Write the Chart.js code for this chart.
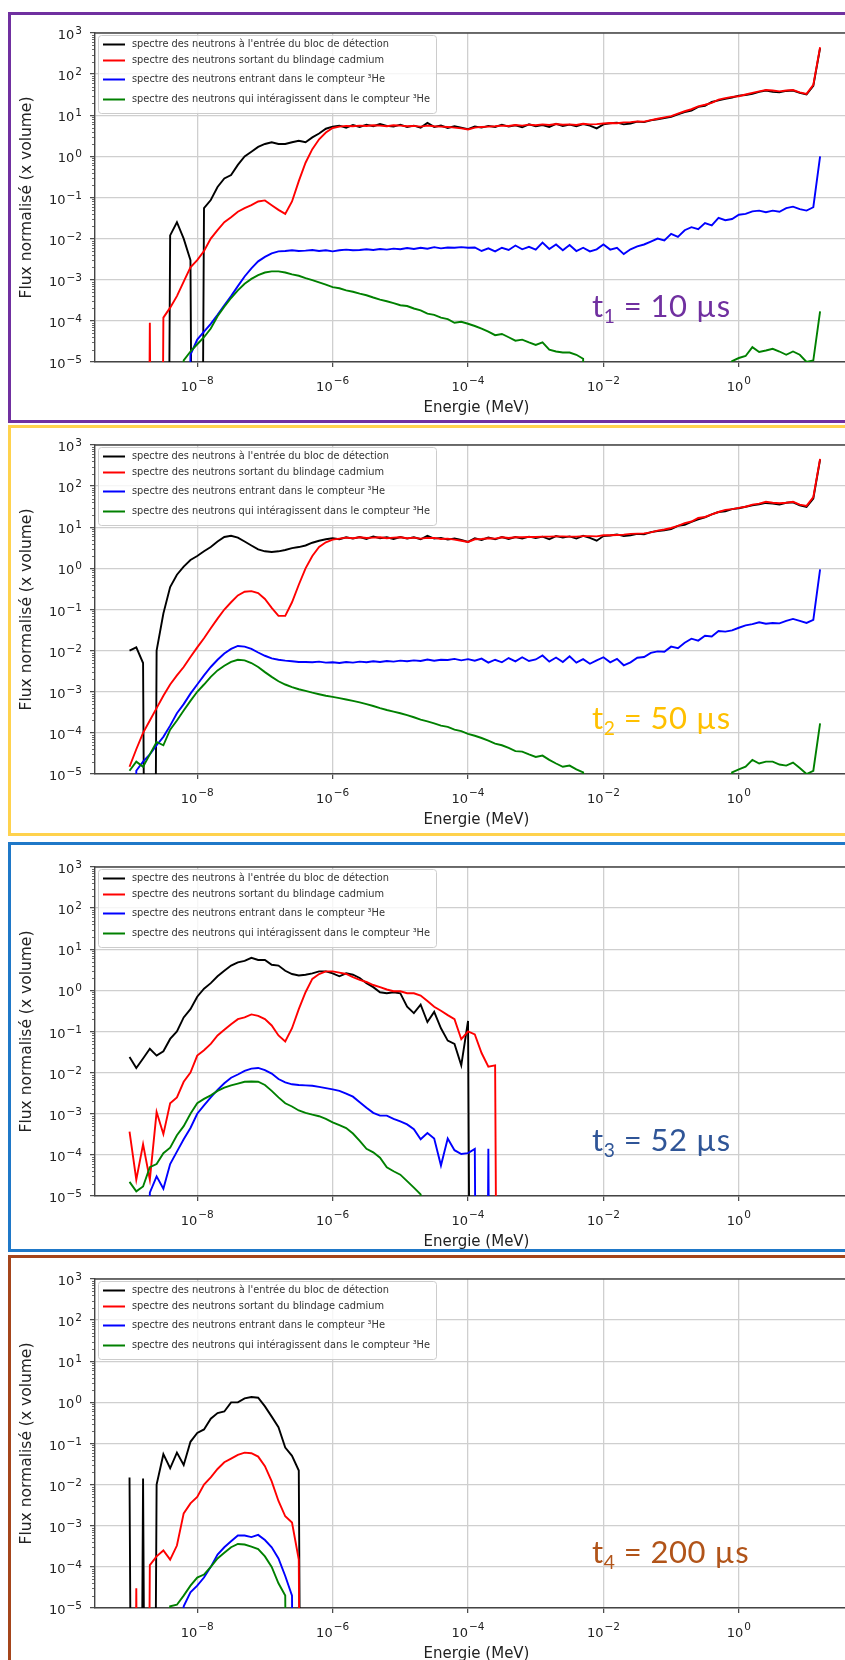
<!DOCTYPE html>
<html lang="fr">
<head>
<meta charset="utf-8">
<title>Spectres des neutrons</title>
<script src="https://cdn.jsdelivr.net/npm/chart.js@4.4.1/dist/chart.umd.min.js"></script>
<style>
  html, body { margin: 0; padding: 0; background: #fff; }
  body { width: 845px; height: 1660px; overflow: hidden; position: relative; }
  .cadre { position: absolute; left: 8px; width: 900px; border: 3px solid; box-sizing: border-box; }
  canvas { position: absolute; left: 0; }
  .temps { position: absolute; left: 592px; font-family: Lato, "Open Sans", sans-serif; font-size: 31px; letter-spacing: 0.5px; line-height: 1; white-space: nowrap; }
  .temps sub { font-size: 62%; vertical-align: -0.3em; line-height: 0; }
</style>
</head>
<body>
<div class="cadre" style="top:12px;height:411px;border-color:#7030a0"></div>
<div class="cadre" style="top:425px;height:411px;border-color:#ffd24d"></div>
<div class="cadre" style="top:842px;height:410px;border-color:#1f78c8"></div>
<div class="cadre" style="top:1255px;height:430px;border-color:#a5451b"></div>

<canvas id="c1" width="880" height="409" style="top:13px"></canvas>
<canvas id="c2" width="880" height="409" style="top:425px"></canvas>
<canvas id="c3" width="880" height="409" style="top:847px"></canvas>
<canvas id="c4" width="880" height="409" style="top:1259px"></canvas>

<div class="temps" style="top:290px;color:#7030a0">t<sub>1</sub> = 10 µs</div>
<div class="temps" style="top:702px;color:#ffc000">t<sub>2</sub> = 50 µs</div>
<div class="temps" style="top:1124px;color:#2f5597">t<sub>3</sub> = 52 µs</div>
<div class="temps" style="top:1536px;color:#b15419">t<sub>4</sub> = 200 µs</div>

<script>
// energies (log10 MeV), centre des bins
var logE = [-9.0, -8.9, -8.8, -8.7, -8.6, -8.5, -8.4, -8.3, -8.2, -8.1,
            -8.0, -7.9, -7.8, -7.7, -7.6, -7.5, -7.4, -7.3, -7.2, -7.1,
            -7.0, -6.9, -6.8, -6.7, -6.6, -6.5, -6.4, -6.3, -6.2, -6.1,
            -6.0, -5.9, -5.8, -5.7, -5.6, -5.5, -5.4, -5.3, -5.2, -5.1,
            -5.0, -4.9, -4.8, -4.7, -4.6, -4.5, -4.4, -4.3, -4.2, -4.1,
            -4.0, -3.9, -3.8, -3.7, -3.6, -3.5, -3.4, -3.3, -3.2, -3.1,
            -3.0, -2.9, -2.8, -2.7, -2.6, -2.5, -2.4, -2.3, -2.2, -2.1,
            -2.0, -1.9, -1.8, -1.7, -1.6, -1.5, -1.4, -1.3, -1.2, -1.1,
            -1.0, -0.9, -0.8, -0.7, -0.6, -0.5, -0.4, -0.3, -0.2, -0.1,
             0.0,  0.1,  0.2,  0.3,  0.4,  0.5,  0.6,  0.7,  0.8,  0.9,
             1.0,  1.1,  1.2];

var seriesLabels = ["spectre des neutrons à l'entrée du bloc de détection",
                    "spectre des neutrons sortant du blindage cadmium",
                    "spectre des neutrons entrant dans le compteur ³He",
                    "spectre des neutrons qui intéragissent dans le compteur ³He"];
var seriesColors = ['#000000', '#ff0000', '#0000ff', '#008000'];

var xTickValues = [1e-8, 1e-6, 1e-4, 1e-2, 1];
var xTickLabels = ['10⁻⁸', '10⁻⁶', '10⁻⁴', '10⁻²', '10⁰'];
var yTickValues = [1e-5, 1e-4, 1e-3, 1e-2, 1e-1, 1, 1e1, 1e2, 1e3];
var yTickLabels = ['10⁻⁵', '10⁻⁴', '10⁻³', '10⁻²', '10⁻¹', '10⁰', '10¹', '10²', '10³'];

// ---- t1 = 10 us ----
var p1Entree = [0, 0, 0, 0, 0, 0, 0.012, 0.025, 0.01, 0.003,
  0, 0.055, 0.087, 0.18, 0.29, 0.35, 0.62, 1.0, 1.3, 1.7,
  2.0, 2.2, 2.0, 2.0, 2.2, 2.4, 2.2, 2.9, 3.6, 4.7,
  5.3, 5.6, 5.0, 5.8, 5.2, 5.9, 5.4, 6.1, 5.5, 5.3,
  5.9, 5.2, 5.6, 5.0, 6.5, 5.2, 5.6, 4.9, 5.4, 5.0,
  4.6, 5.3, 5.0, 5.5, 5.2, 5.9, 5.3, 5.7, 5.1, 6.0,
  5.4, 5.8, 5.2, 6.2, 5.5, 5.9, 5.4, 6.1, 5.6, 4.8,
  6.0, 6.4, 6.6, 6.0, 6.3, 7.0, 6.8, 7.5, 8.0, 8.5,
  9.2, 10.5, 12, 13, 16, 17, 21, 23, 25, 27,
  30, 31, 33, 37, 40, 37, 36, 39, 40, 35,
  32, 52, 430];
var p1Cadmium = [0, 0, 0, 9e-5, 0, 1.2e-4, 2.1e-4, 4e-4, 9e-4, 2e-3,
  3e-3, 5e-3, 1e-2, 1.6e-2, 2.5e-2, 3.3e-2, 4.5e-2, 5.5e-2, 6.5e-2, 8e-2,
  8.5e-2, 6.5e-2, 5e-2, 4e-2, 8e-2, 0.25, 0.7, 1.5, 2.6, 3.8,
  4.9, 5.3, 5.5, 5.4, 5.6, 5.5, 5.7, 5.6, 5.4, 5.7,
  5.6, 5.4, 5.5, 5.3, 5.6, 5.4, 5.3, 5.2, 5.0, 4.8,
  4.5, 5.0, 5.2, 5.3, 5.4, 5.6, 5.5, 5.8, 5.6, 5.9,
  5.7, 6.0, 5.8, 6.1, 5.9, 6.0, 5.8, 6.2, 6.0, 6.1,
  6.3, 6.5, 6.4, 6.7, 6.8, 7.1, 7.0, 7.6, 8.2, 8.9,
  9.5, 11, 12.5, 14, 16.5, 18, 20, 24, 26, 28,
  29, 32, 35, 38, 41, 40, 38, 40, 41, 36,
  33, 55, 450];
var p1Entrant = [0, 0, 0, 0, 0, 0, 0, 0, 0, 1.5e-5,
  3.5e-5, 5.5e-5, 8.5e-5, 1.4e-4, 2.4e-4, 4e-4, 7e-4, 1.2e-3, 1.9e-3, 2.8e-3,
  3.6e-3, 4.4e-3, 4.9e-3, 5.0e-3, 5.2e-3, 5.0e-3, 5.1e-3, 5.3e-3, 5.0e-3, 5.2e-3,
  4.9e-3, 5.2e-3, 5.4e-3, 5.2e-3, 5.3e-3, 5.5e-3, 5.3e-3, 5.6e-3, 5.4e-3, 5.7e-3,
  5.5e-3, 5.9e-3, 5.6e-3, 6.0e-3, 5.7e-3, 6.2e-3, 5.8e-3, 6.1e-3, 6.0e-3, 6.2e-3,
  6.0e-3, 6.1e-3, 5.0e-3, 5.8e-3, 4.9e-3, 6.0e-3, 5.3e-3, 6.8e-3, 5.5e-3, 6.3e-3,
  5.4e-3, 8.0e-3, 5.6e-3, 7.2e-3, 5.2e-3, 7.0e-3, 5.0e-3, 6.0e-3, 4.9e-3, 5.5e-3,
  7.2e-3, 5.4e-3, 6.0e-3, 4.2e-3, 5.5e-3, 6.5e-3, 7.2e-3, 8.5e-3, 1.0e-2, 9.0e-3,
  1.3e-2, 1.1e-2, 1.6e-2, 1.9e-2, 1.7e-2, 2.4e-2, 2.1e-2, 3.2e-2, 2.8e-2, 3.0e-2,
  3.8e-2, 4.0e-2, 4.6e-2, 4.8e-2, 4.4e-2, 4.8e-2, 4.5e-2, 5.5e-2, 6.0e-2, 5.2e-2,
  4.8e-2, 5.8e-2, 1.0];
var p1Interagit = [0, 0, 0, 0, 0, 0, 0, 0, 1.1e-5, 1.8e-5,
  2.7e-5, 4e-5, 6.5e-5, 1.3e-4, 2.2e-4, 3.6e-4, 5.5e-4, 8e-4, 1.05e-3, 1.3e-3,
  1.5e-3, 1.6e-3, 1.6e-3, 1.5e-3, 1.35e-3, 1.25e-3, 1.1e-3, 9.8e-4, 8.6e-4, 7.6e-4,
  6.6e-4, 6.2e-4, 5.5e-4, 5.1e-4, 4.6e-4, 4.2e-4, 3.7e-4, 3.3e-4, 3.0e-4, 2.7e-4,
  2.4e-4, 2.3e-4, 2.0e-4, 1.8e-4, 1.5e-4, 1.4e-4, 1.2e-4, 1.1e-4, 9e-5, 9.5e-5,
  8.5e-5, 7.5e-5, 6.5e-5, 5.5e-5, 4.5e-5, 4.8e-5, 4e-5, 3.3e-5, 3.5e-5, 3e-5,
  2.6e-5, 3e-5, 2e-5, 1.8e-5, 1.7e-5, 1.7e-5, 1.5e-5, 1.2e-5, 0, 0,
  0, 0, 0, 0, 0, 0, 0, 0, 0, 0,
  0, 0, 0, 0, 0, 0, 0, 0, 0, 1.05e-5,
  1.25e-5, 1.4e-5, 2.3e-5, 1.75e-5, 1.9e-5, 2.1e-5, 1.8e-5, 1.5e-5, 1.8e-5, 1.5e-5,
  1.0e-5, 1.1e-5, 1.7e-4];

// ---- t2 = 50 us ----
var p2Entree = [0.01, 0.012, 0.005, 0, 0.01, 0.08, 0.35, 0.7, 1.1, 1.6,
  2.0, 2.6, 3.3, 4.5, 5.8, 6.2, 5.6, 4.5, 3.6, 2.9,
  2.6, 2.5, 2.6, 2.8, 3.1, 3.3, 3.6, 4.2, 4.7, 5.1,
  5.4, 5.1, 5.7, 5.3, 5.8, 5.2, 6.0, 5.4, 5.7, 5.2,
  5.8, 5.3, 5.7, 5.1, 6.2, 5.3, 5.5, 5.0, 5.3, 4.9,
  4.4, 5.4, 4.9, 5.6, 5.1, 5.8, 5.2, 5.8, 5.3, 5.9,
  5.5, 5.9, 5.1, 6.1, 5.6, 6.0, 5.3, 6.2, 5.5, 4.7,
  6.1, 6.3, 6.7, 6.1, 6.4, 6.9, 6.7, 7.6, 8.1, 8.4,
  9.0, 10.8, 11.5, 13.5, 15.5, 17.5, 20.5, 23.5, 24.5, 27.5,
  29, 31.5, 34, 36, 39, 37.5, 35.5, 39.5, 40.5, 34,
  31, 50, 440];
var p2Cadmium = [1.5e-5, 4e-5, 1e-4, 2e-4, 4e-4, 8e-4, 1.5e-3, 2.5e-3, 4e-3, 7e-3,
  1.2e-2, 2e-2, 3.5e-2, 6e-2, 0.1, 0.15, 0.22, 0.27, 0.28, 0.25,
  0.18, 0.11, 0.07, 0.07, 0.15, 0.4, 1.0, 2.0, 3.3, 4.3,
  5.0, 5.3, 5.6, 5.4, 5.7, 5.5, 5.6, 5.7, 5.4, 5.6,
  5.7, 5.4, 5.6, 5.3, 5.5, 5.5, 5.2, 5.3, 5.0, 4.7,
  4.4, 5.1, 5.2, 5.4, 5.3, 5.7, 5.5, 5.7, 5.7, 5.8,
  5.8, 5.9, 5.9, 6.0, 6.0, 5.9, 5.9, 6.1, 6.1, 6.0,
  6.4, 6.4, 6.5, 6.6, 6.9, 7.0, 7.1, 7.5, 8.3, 8.8,
  9.6, 10.8, 12.6, 13.8, 16.8, 17.8, 20.5, 23.5, 26.5, 27.5,
  29.5, 31.5, 35.5, 37.5, 41.5, 39.5, 38.5, 39.5, 41.5, 35.5,
  33, 54, 460];
var p2Entrant = [0, 1.2e-5, 2e-5, 3e-5, 5e-5, 8e-5, 1.5e-4, 3e-4, 5e-4, 9e-4,
  1.5e-3, 2.5e-3, 4e-3, 6e-3, 8.5e-3, 1.1e-2, 1.3e-2, 1.25e-2, 1.1e-2, 9e-3,
  7.5e-3, 6.5e-3, 6e-3, 5.7e-3, 5.5e-3, 5.3e-3, 5.3e-3, 5.2e-3, 5.4e-3, 5.1e-3,
  5.2e-3, 5.0e-3, 5.3e-3, 5.1e-3, 5.4e-3, 5.2e-3, 5.5e-3, 5.3e-3, 5.6e-3, 5.4e-3,
  5.7e-3, 5.5e-3, 5.8e-3, 5.6e-3, 6.1e-3, 5.7e-3, 6.0e-3, 5.9e-3, 6.3e-3, 5.8e-3,
  6.2e-3, 5.7e-3, 6.4e-3, 5.1e-3, 6.0e-3, 5.2e-3, 6.6e-3, 5.5e-3, 6.9e-3, 5.6e-3,
  6.1e-3, 7.6e-3, 5.4e-3, 6.8e-3, 5.3e-3, 7.3e-3, 5.1e-3, 6.2e-3, 4.8e-3, 5.8e-3,
  6.9e-3, 5.2e-3, 6.3e-3, 4.4e-3, 5.2e-3, 6.7e-3, 7.0e-3, 8.8e-3, 9.6e-3, 9.4e-3,
  1.25e-2, 1.15e-2, 1.55e-2, 1.95e-2, 1.75e-2, 2.3e-2, 2.2e-2, 3.0e-2, 2.9e-2, 3.1e-2,
  3.6e-2, 4.1e-2, 4.4e-2, 4.9e-2, 4.5e-2, 4.7e-2, 4.6e-2, 5.3e-2, 5.9e-2, 5.3e-2,
  4.7e-2, 5.6e-2, 0.95];
var p2Interagit = [1.2e-5, 2e-5, 1.5e-5, 3e-5, 6e-5, 5e-5, 1.2e-4, 2e-4, 3.5e-4, 6e-4,
  1e-3, 1.5e-3, 2.3e-3, 3.3e-3, 4.3e-3, 5.3e-3, 6e-3, 5.8e-3, 5e-3, 4e-3,
  3e-3, 2.3e-3, 1.8e-3, 1.5e-3, 1.3e-3, 1.15e-3, 1.05e-3, 9.5e-4, 8.7e-4, 8e-4,
  7.5e-4, 7e-4, 6.5e-4, 6e-4, 5.5e-4, 5e-4, 4.5e-4, 4e-4, 3.6e-4, 3.3e-4,
  3e-4, 2.7e-4, 2.4e-4, 2.1e-4, 1.9e-4, 1.7e-4, 1.5e-4, 1.4e-4, 1.2e-4, 1.1e-4,
  9.5e-5, 8.5e-5, 7.5e-5, 6.5e-5, 5.5e-5, 5e-5, 4.3e-5, 3.6e-5, 3.5e-5, 3e-5,
  2.6e-5, 2.8e-5, 2.2e-5, 1.8e-5, 1.5e-5, 1.6e-5, 1.3e-5, 1.1e-5, 0, 0,
  0, 0, 0, 0, 0, 0, 0, 0, 0, 0,
  0, 0, 0, 0, 0, 0, 0, 0, 0, 1.1e-5,
  1.3e-5, 1.5e-5, 2.2e-5, 1.8e-5, 2.0e-5, 2.0e-5, 1.7e-5, 1.6e-5, 1.9e-5, 1.4e-5,
  1.0e-5, 1.2e-5, 1.7e-4];

// ---- t3 = 52 us ----
var p3Entree = [0.024, 0.013, 0.022, 0.038, 0.026, 0.033, 0.066, 0.1, 0.22, 0.35,
  0.7, 1.1, 1.5, 2.2, 3.0, 4.0, 4.8, 5.2, 6.2, 5.5,
  5.5, 4.2, 4.0, 3.0, 2.5, 2.3, 2.4, 2.6, 2.9, 2.9,
  2.6, 2.2, 2.6, 2.4, 2.0, 1.5, 1.2, 0.9, 0.85, 0.9,
  0.85, 0.4, 0.28, 0.45, 0.17, 0.3, 0.12, 0.06, 0.05, 0.015,
  0.18, 0];
var p3Cadmium = [3.7e-4, 2.5e-5, 1.8e-4, 2.5e-5, 1.1e-3, 3.2e-4, 1.8e-3, 2.5e-3, 6e-3, 1e-2,
  2.6e-2, 3.5e-2, 5e-2, 8e-2, 0.11, 0.15, 0.2, 0.22, 0.26, 0.24,
  0.2, 0.14, 0.08, 0.057, 0.12, 0.35, 0.9, 1.9, 2.5, 2.9,
  2.9, 2.7, 2.5, 2.1, 1.8, 1.6, 1.35, 1.2, 1.05, 0.95,
  0.95, 0.85, 0.85, 0.75, 0.55, 0.4, 0.32, 0.25, 0.2, 0.065,
  0.1, 0.085, 0.03, 0.014, 0.015, 0];
var p3Entrant = [0, 0, 0, 1.2e-5, 3e-5, 1.5e-5, 6e-5, 1.2e-4, 2.4e-4, 4.5e-4,
  1e-3, 1.6e-3, 2.5e-3, 3.8e-3, 5.5e-3, 7.5e-3, 9e-3, 1.1e-2, 1.25e-2, 1.3e-2,
  1.15e-2, 9.5e-3, 7e-3, 5.8e-3, 5.2e-3, 5e-3, 4.9e-3, 4.8e-3, 4.5e-3, 4.2e-3,
  3.9e-3, 3.6e-3, 3.1e-3, 2.6e-3, 1.9e-3, 1.4e-3, 1.05e-3, 9e-4, 9e-4, 7.5e-4,
  6.5e-4, 5.5e-4, 4.2e-4, 2.4e-4, 3.4e-4, 2.5e-4, 5.5e-5, 2.5e-4, 1.3e-4, 1.05e-4,
  1.1e-4, 1.4e-4, 0, 1.4e-4, 0];
var p3Interagit = [2.2e-5, 1.3e-5, 1.7e-5, 5e-5, 6e-5, 1.1e-4, 1.5e-4, 3e-4, 5e-4, 1e-3,
  1.8e-3, 2.3e-3, 2.8e-3, 3.6e-3, 4.3e-3, 4.9e-3, 5.4e-3, 6e-3, 6.1e-3, 6e-3,
  5e-3, 3.6e-3, 2.5e-3, 1.8e-3, 1.5e-3, 1.2e-3, 1.05e-3, 9.5e-4, 8.7e-4, 7.5e-4,
  6.2e-4, 5.3e-4, 4.5e-4, 3.3e-4, 2.2e-4, 1.4e-4, 1.15e-4, 8.5e-5, 5e-5, 4e-5,
  3.3e-5, 2.3e-5, 1.6e-5, 1.1e-5, 0];

// ---- t4 = 200 us ----
var p4Entree = [0.015, 0, 0.014, 0, 0.01, 0.055, 0.025, 0.06, 0.03, 0.11,
  0.18, 0.22, 0.4, 0.55, 0.6, 1.0, 1.0, 1.25, 1.35, 1.3,
  0.8, 0.45, 0.25, 0.08, 0.05, 0.022, 0];
var p4Cadmium = [0, 3e-5, 0, 1.1e-4, 1.8e-4, 2.5e-4, 1.5e-4, 3.3e-4, 2e-3, 3.5e-3,
  5e-3, 1e-2, 1.5e-2, 2.4e-2, 3.5e-2, 4.3e-2, 5.3e-2, 6e-2, 5.8e-2, 4.8e-2,
  2.8e-2, 1.2e-2, 4e-3, 1.7e-3, 1.2e-3, 1.5e-4, 0];
var p4Entrant = [0, 0, 0, 0, 0, 0, 0, 0, 1.1e-5, 2.4e-5,
  3.5e-5, 5.5e-5, 1e-4, 2e-4, 3e-4, 4.2e-4, 5.8e-4, 5.8e-4, 5.3e-4, 6e-4,
  4.5e-4, 3e-4, 1.6e-4, 6e-5, 2e-5, 0];
var p4Interagit = [0, 0, 0, 0, 0, 0, 1.1e-5, 1.2e-5, 2e-5, 3.5e-5,
  5.5e-5, 6.5e-5, 1e-4, 1.6e-4, 2.2e-4, 3e-4, 3.6e-4, 3.5e-4, 3.1e-4, 2.7e-4,
  1.8e-4, 1e-4, 4e-5, 2e-5, 0];

// un bin vide (0) est tracé comme matplotlib : valeur écrasée sous l'axe
var VIDE = 1e-30;

Chart.defaults.font.family = '"DejaVu Sans", sans-serif';

var FONT_BASE = '13px "DejaVu Sans", sans-serif';
var FONT_EXP = '10.5px "DejaVu Sans", sans-serif';
var supMap = { '⁻': '−', '⁰': '0', '¹': '1', '²': '2', '³': '3', '⁴': '4', '⁵': '5', '⁶': '6', '⁷': '7', '⁸': '8', '⁹': '9' };

// '10⁻⁸' -> ['10', '−8'] pour dessiner l'exposant en plus gros
function splitLabel(s) {
    return [s.slice(0, 2), s.slice(2).split('').map(function(c) { return supMap[c] || c; }).join('')];
}

// cadre haut, graduations mineures y, étiquettes 10^n
var axesPlugin = {
    id: 'axesPlugin',
    afterDraw: function(chart) {
        var ctx = chart.ctx, a = chart.chartArea, x = chart.scales.x, y = chart.scales.y;
        ctx.save();
        ctx.strokeStyle = '#444';
        ctx.lineWidth = 1.4;
        ctx.beginPath();
        ctx.moveTo(a.left, a.top);
        ctx.lineTo(a.right, a.top);
        ctx.stroke();
        ctx.lineWidth = 0.8;
        for (var e = -5; e < 3; e++) {
            for (var k = 2; k < 10; k++) {
                var py = Math.round(y.getPixelForValue(k * Math.pow(10, e))) + 0.5;
                ctx.beginPath();
                ctx.moveTo(a.left - 3, py);
                ctx.lineTo(a.left, py);
                ctx.stroke();
            }
        }

        ctx.fillStyle = '#222';
        ctx.textAlign = 'left';
        ctx.textBaseline = 'alphabetic';
        xTickValues.forEach(function(v, i) {
            var px = x.getPixelForValue(v);
            var parts = splitLabel(xTickLabels[i]);
            ctx.font = FONT_BASE;
            var wb = ctx.measureText(parts[0]).width;
            ctx.font = FONT_EXP;
            var we = ctx.measureText(parts[1]).width;
            var x0 = px - (wb + we + 1) / 2;
            ctx.font = FONT_BASE;
            ctx.fillText(parts[0], x0, a.bottom + 29);
            ctx.font = FONT_EXP;
            ctx.fillText(parts[1], x0 + wb + 1, a.bottom + 22);
        });
        yTickValues.forEach(function(v, i) {
            var py = y.getPixelForValue(v);
            var parts = splitLabel(yTickLabels[i]);
            ctx.font = FONT_EXP;
            var we = ctx.measureText(parts[1]).width;
            ctx.font = FONT_BASE;
            var wb = ctx.measureText(parts[0]).width;
            var xe = a.left - 13 - we;
            ctx.fillText(parts[0], xe - 1 - wb, py + 6);
            ctx.font = FONT_EXP;
            ctx.fillText(parts[1], xe, py + 1);
        });
        ctx.restore();
    }
};

// légende dans le coin haut gauche du graphique
var legendRows = [11.5, 27.5, 46.5, 66.5];
var legendTextWidths = [257, 252, 253, 298];
var legendPlugin = {
    id: 'legendPlugin',
    afterDatasetsDraw: function(chart) {
        var ctx = chart.ctx, a = chart.chartArea;
        var bx = a.left + 3, by = a.top + 2, bw = 338, bh = 78;
        ctx.save();
        ctx.fillStyle = 'rgba(255,255,255,0.8)';
        ctx.strokeStyle = '#cccccc';
        ctx.lineWidth = 1;
        ctx.beginPath();
        ctx.roundRect(bx + 0.5, by + 0.5, bw, bh, 3);
        ctx.fill();
        ctx.stroke();
        ctx.font = '11px "DejaVu Sans", sans-serif';
        ctx.textBaseline = 'middle';
        chart.data.datasets.forEach(function(ds, i) {
            var ry = a.top + legendRows[i];
            ctx.strokeStyle = ds.borderColor;
            ctx.lineWidth = 2;
            ctx.beginPath();
            ctx.moveTo(a.left + 8, ry);
            ctx.lineTo(a.left + 30, ry);
            ctx.stroke();
            var w = ctx.measureText(ds.label).width;
            ctx.save();
            ctx.translate(a.left + 37, ry);
            ctx.scale(legendTextWidths[i] / w, 1);
            ctx.fillStyle = '#333';
            ctx.fillText(ds.label, 0, 0);
            ctx.restore();
        });
        ctx.restore();
    }
};

function makeChart(id, series) {
    var ctx = document.getElementById(id).getContext('2d');
    return new Chart(ctx, {
        type: 'line',
        data: {
            datasets: series.map(function(vals, k) {
                return {
                    label: seriesLabels[k],
                    data: vals.map(function(v, i) {
                        return { x: Math.pow(10, logE[i]), y: v > 0 ? v : VIDE };
                    }),
                    borderColor: seriesColors[k],
                    backgroundColor: seriesColors[k],
                    borderWidth: 1.9,
                    pointRadius: 0,
                    fill: false,
                    tension: 0,
                    order: 3 - k
                };
            })
        },
        options: {
            responsive: false,
            animation: false,
            events: [],
            layout: { padding: { left: 0, right: 22, top: 20, bottom: 0 } },
            plugins: { legend: { display: false }, tooltip: { enabled: false } },
            scales: {
                x: {
                    type: 'logarithmic',
                    min: Math.pow(10, -9.51),
                    max: Math.pow(10, 1.76),
                    afterBuildTicks: function(s) {
                        s.ticks = xTickValues.map(function(v) { return { value: v }; });
                    },
                    afterFit: function(s) { s.height = 60; },
                    ticks: { display: false },
                    grid: { color: '#cfcfcf', lineWidth: 1.3, tickColor: '#444', tickLength: 5, tickWidth: 1.2 },
                    border: { color: '#444', width: 1.4 },
                    title: { display: true, text: 'Energie (MeV)', color: '#222', font: { size: 15 }, padding: { top: 0, bottom: 5 } }
                },
                y: {
                    type: 'logarithmic',
                    min: 1e-5,
                    max: 1e3,
                    afterBuildTicks: function(s) {
                        s.ticks = yTickValues.map(function(v) { return { value: v }; });
                    },
                    afterFit: function(s) { s.width = 95; },
                    ticks: { display: false },
                    grid: { color: '#cfcfcf', lineWidth: 1.3, tickColor: '#444', tickLength: 5, tickWidth: 1.2 },
                    border: { color: '#444', width: 1.4 },
                    title: { display: true, text: 'Flux normalisé (x volume)', color: '#222', font: { size: 15.5 }, padding: { top: 18, bottom: 0 } }
                }
            }
        },
        plugins: [axesPlugin, legendPlugin]
    });
}

makeChart('c1', [p1Entree, p1Cadmium, p1Entrant, p1Interagit]);
makeChart('c2', [p2Entree, p2Cadmium, p2Entrant, p2Interagit]);
makeChart('c3', [p3Entree, p3Cadmium, p3Entrant, p3Interagit]);
makeChart('c4', [p4Entree, p4Cadmium, p4Entrant, p4Interagit]);
</script>
</body>
</html>
